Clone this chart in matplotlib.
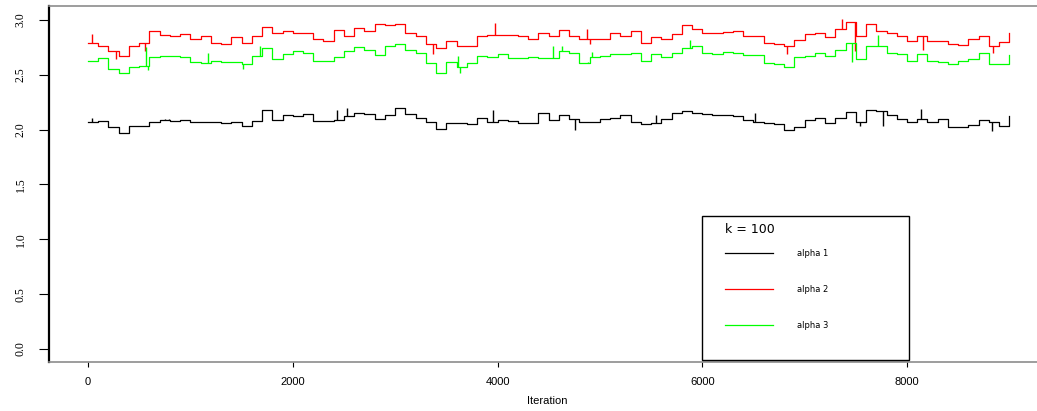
import numpy as np
import matplotlib
matplotlib.use('Agg')
import matplotlib.pyplot as plt
from matplotlib.patches import Rectangle

# trace values, one level every 100 iterations (0..9000)
alpha1 = [2.07, 2.08, 2.02, 1.97, 2.03, 2.03, 2.07, 2.09, 2.08, 2.09,
          2.07, 2.07, 2.07, 2.06, 2.07, 2.03, 2.08, 2.18, 2.09, 2.13,
          2.12, 2.14, 2.08, 2.08, 2.09, 2.12, 2.15, 2.14, 2.10, 2.13,
          2.20, 2.14, 2.11, 2.07, 2.01, 2.06, 2.06, 2.05, 2.11, 2.07,
          2.09, 2.08, 2.06, 2.06, 2.15, 2.09, 2.13, 2.10, 2.07, 2.07,
          2.10, 2.11, 2.13, 2.07, 2.05, 2.06, 2.10, 2.15, 2.17, 2.15,
          2.14, 2.13, 2.13, 2.12, 2.09, 2.07, 2.06, 2.05, 2.00, 2.02,
          2.09, 2.11, 2.06, 2.11, 2.16, 2.07, 2.18, 2.17, 2.13, 2.10,
          2.07, 2.10, 2.07, 2.10, 2.02, 2.02, 2.04, 2.09, 2.07, 2.03,
          2.12]
alpha2 = [2.79, 2.76, 2.72, 2.67, 2.76, 2.79, 2.90, 2.86, 2.85, 2.87,
          2.83, 2.85, 2.79, 2.78, 2.84, 2.79, 2.85, 2.94, 2.88, 2.90,
          2.88, 2.88, 2.83, 2.81, 2.91, 2.85, 2.93, 2.90, 2.96, 2.95,
          2.96, 2.88, 2.85, 2.78, 2.74, 2.81, 2.76, 2.76, 2.85, 2.86,
          2.86, 2.86, 2.85, 2.83, 2.88, 2.85, 2.91, 2.85, 2.83, 2.83,
          2.83, 2.88, 2.85, 2.90, 2.79, 2.84, 2.83, 2.87, 2.95, 2.92,
          2.88, 2.88, 2.89, 2.90, 2.85, 2.85, 2.79, 2.78, 2.76, 2.82,
          2.87, 2.88, 2.84, 2.92, 2.98, 2.85, 2.96, 2.90, 2.88, 2.85,
          2.81, 2.85, 2.81, 2.81, 2.78, 2.77, 2.83, 2.85, 2.76, 2.80,
          2.88]
alpha3 = [2.63, 2.65, 2.55, 2.52, 2.57, 2.58, 2.66, 2.67, 2.67, 2.66,
          2.62, 2.61, 2.63, 2.62, 2.62, 2.60, 2.67, 2.74, 2.64, 2.69,
          2.72, 2.70, 2.63, 2.63, 2.66, 2.72, 2.75, 2.73, 2.68, 2.76,
          2.78, 2.73, 2.70, 2.61, 2.52, 2.62, 2.57, 2.61, 2.67, 2.66,
          2.69, 2.65, 2.65, 2.66, 2.65, 2.65, 2.72, 2.70, 2.61, 2.66,
          2.67, 2.69, 2.69, 2.70, 2.63, 2.69, 2.66, 2.70, 2.74, 2.76,
          2.70, 2.69, 2.71, 2.70, 2.68, 2.68, 2.61, 2.60, 2.57, 2.66,
          2.67, 2.70, 2.67, 2.73, 2.79, 2.64, 2.76, 2.76, 2.70, 2.69,
          2.63, 2.69, 2.63, 2.62, 2.60, 2.63, 2.64, 2.70, 2.60, 2.60,
          2.68]
iters = np.arange(len(alpha1)) * 100

# short-lived jumps (iteration, value) seen as thin spikes in the trace
alpha1_spike_it = [40, 750, 790, 2430, 2530, 3960, 4760, 5550, 6515, 7540, 7770, 8140, 8830]
alpha1_spike_val = [2.11, 2.10, 2.10, 2.18, 2.20, 2.18, 2.00, 2.13, 2.15, 2.03, 2.03, 2.19, 1.99]
alpha2_spike_it = [40, 270, 560, 3370, 3975, 4870, 4900, 6825, 7365, 7490, 8160, 8840]
alpha2_spike_val = [2.87, 2.64, 2.72, 2.69, 2.97, 2.92, 2.78, 2.69, 3.01, 2.72, 2.73, 2.70]
alpha3_spike_it = [570, 590, 1175, 1515, 1680, 3616, 3630, 4540, 4630, 4880, 4920, 5880, 7460, 7720]
alpha3_spike_val = [2.75, 2.54, 2.70, 2.55, 2.76, 2.67, 2.52, 2.76, 2.76, 2.62, 2.71, 2.82, 2.62, 2.86]

series = [('alpha 1', alpha1, alpha1_spike_it, alpha1_spike_val, 'black'),
          ('alpha 2', alpha2, alpha2_spike_it, alpha2_spike_val, 'red'),
          ('alpha 3', alpha3, alpha3_spike_it, alpha3_spike_val, '#00ff00')]
legend_title = 'k = 100'

W, H = 1037, 411
fig = plt.figure(figsize=(W / 100, H / 100), dpi=100)
# axes box in pixels: left 49, right off-canvas, top 6, bottom 362
ax = fig.add_axes([49 / W, 1 - 362 / H, (1045 - 49) / W, (362 - 6) / H])

for name, vals, sp_it, sp_val, col in series:
    ax.plot(iters, vals, color=col, lw=0.9, drawstyle='steps-post')
    base = [vals[int(i // 100)] for i in sp_it]
    ax.vlines(sp_it, base, sp_val, color=col, lw=1.0)

ax.set_xlim(-381, 9348)
ax.set_ylim(-0.118, 3.127)
ax.set_xticks([0, 2000, 4000, 6000, 8000])
ax.set_yticks([0.0, 0.5, 1.0, 1.5, 2.0, 2.5, 3.0])
ax.set_yticklabels(['0.0', '0.5', '1.0', '1.5', '2.0', '2.5', '3.0'],
                   rotation=90, va='center', family='Liberation Serif', fontsize=8.5)
for t in ax.get_xticklabels():
    t.set_family('Liberation Sans')
    t.set_fontsize(8)
ax.tick_params(axis='y', direction='out', length=7.2, width=0.8, pad=9)
ax.tick_params(axis='x', direction='out', length=3.6, width=0.8, pad=7.5)
ax.set_xlabel('Iteration', family='Liberation Sans', fontsize=8, labelpad=6)

ax.spines['right'].set_visible(False)
ax.spines['left'].set_linewidth(1.6)
ax.spines['left'].set_color('black')
for s in ('top', 'bottom'):
    ax.spines[s].set_color('0.55')
    ax.spines[s].set_linewidth(1.2)

# legend box drawn by hand, R style
ax.add_patch(Rectangle((5997, -0.10), 8019 - 5997, 1.21 + 0.10, fill=False,
                       ec='black', lw=1.0, zorder=5))
ax.text(6221, 1.094, legend_title, family='DejaVu Sans', fontsize=9,
        ha='left', va='center')
for k, (name, vals, sp_it, sp_val, col) in enumerate(series):
    yy = 0.875 - k * 0.328
    ax.plot([6221, 6691], [yy, yy], color=col, lw=0.9)
    ax.text(6925, yy, name, family='DejaVu Sans', fontsize=6,
            ha='left', va='center')

fig.savefig('out.png', dpi=100)
